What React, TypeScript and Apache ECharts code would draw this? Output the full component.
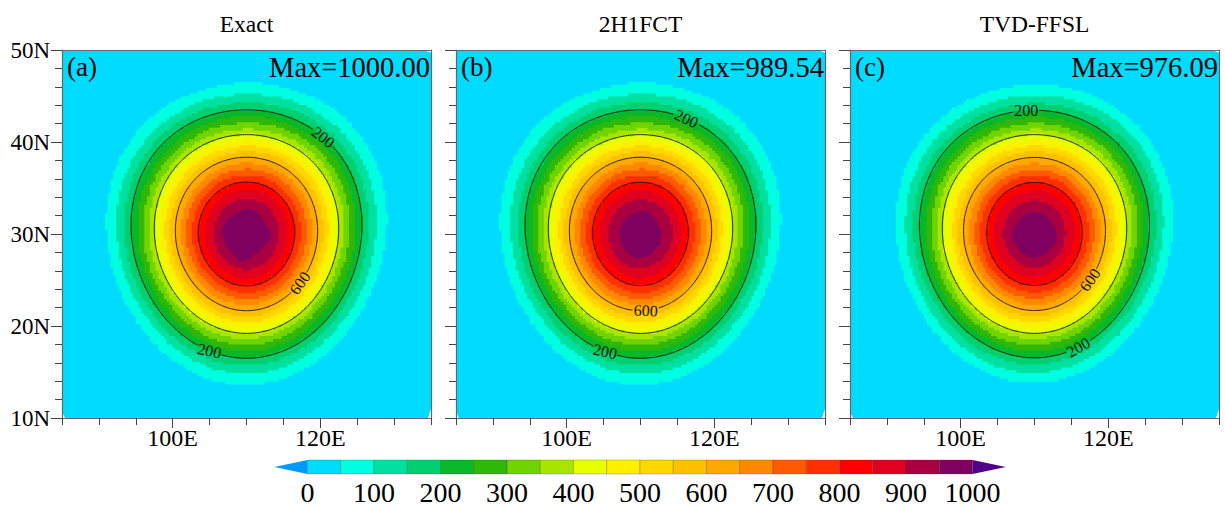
import React, { useEffect, useRef } from "react";
import * as echarts from "echarts";

const FONT = '"Liberation Serif", "Times New Roman", serif';

const panelTitles = ["Exact", "2H1FCT", "TVD-FFSL"];
const panelTags = ["(a)", "(b)", "(c)"];
const panelMax = ["Max=1000.00", "Max=989.54", "Max=976.09"];

const levels = [50, 100, 150, 200, 250, 300, 350, 400, 450, 500, 550, 600, 650, 700, 750, 800, 850, 900];
// distance from the bell's centre (degrees of arc) at which each level is reached
const radiiExact = [16.4, 15.2, 14.3, 13.5, 12.75, 12.07, 11.4, 10.8, 10.17, 9.57, 8.96, 8.34, 7.7, 7.05, 6.38, 5.65, 4.84, 3.85];
const radiiFct = [16.4, 15.2, 14.3, 13.5, 12.75, 12.07, 11.4, 10.8, 10.17, 9.57, 8.96, 8.34, 7.7, 7.05, 6.38, 5.62, 4.78, 3.75];
const radiiFfsl = [16.2, 15.1, 14.2, 13.45, 12.7, 12.05, 11.4, 10.8, 10.17, 9.57, 8.96, 8.32, 7.68, 7.02, 6.35, 5.6, 4.75, 3.65];
const panelRadii = [radiiExact, radiiFct, radiiFfsl];

// the innermost (950+) area: lon, lat
const coreExact = [[110.03, 32.8], [111.15, 32.6], [112.3, 31.5], [113.3, 30.2], [113.3, 29.5], [111.8, 28.1], [110.2, 27.2], [109.1, 27.0], [107.9, 27.9], [107.1, 29.0], [106.6, 30.4], [107.2, 31.4], [108.2, 32.1]];
const coreFct = [[110.1, 32.6], [111.4, 32.2], [112.3, 31.2], [112.9, 30.3], [112.6, 28.8], [111.2, 27.6], [109.3, 27.3], [108.2, 28.0], [107.5, 28.8], [107.0, 30.3], [107.6, 31.3], [108.5, 32.0]];
const coreFfsl = [[109.8, 32.4], [111.2, 32.2], [112.3, 31.3], [112.9, 30.5], [113.0, 29.2], [111.5, 27.8], [109.8, 27.3], [108.2, 27.9], [107.0, 29.5], [107.2, 30.8], [108.4, 32.0]];
const panelCores = [coreExact, coreFct, coreFfsl];

const domainCorners = [[85.4, 10], [134.6, 10], [135, 11], [135, 49.7], [134, 50], [85.3, 50], [85, 49.7], [85, 10.7]];

const contourLevels = [200, 400, 600, 800];
// level, bearing from the centre, rotation of the text
const labelsExact = [[200, 36, -38], [600, 128, 55], [200, 201, -12]];
const labelsFct = [[200, 20, -25], [600, 175.5, -3], [200, 200, -12]];
const labelsFfsl = [[200, 356.5, 0], [600, 125, 55], [200, 155, 30]];
const panelLabels = [labelsExact, labelsFct, labelsFfsl];

const barStops = [0, 50, 100, 150, 200, 250, 300, 350, 400, 450, 500, 550, 600, 650, 700, 750, 800, 850, 900, 950];
const barColors = ["#00DCFF", "#00FFE0", "#00E0A0", "#00D070", "#08B828", "#30B808", "#70D400", "#A8E600", "#E8FF00", "#FFF000", "#FFD800", "#FFC000", "#FFA800", "#FF8800", "#FF5A00", "#FF3000", "#FF0000", "#E00020", "#A80040", "#80005F"];
const lowColor = "#0099FF";
const highColor = "#500088";

const panelLefts = [62, 456, 850];
const PW = 369;
const CX = 110, CY = 30;
const rad = Math.PI / 180;

function destination(d: number, bearing: number) {
  const p1 = CY * rad, dr = d * rad, b = bearing * rad;
  const p2 = Math.asin(Math.sin(p1) * Math.cos(dr) + Math.cos(p1) * Math.sin(dr) * Math.cos(b));
  const dl = Math.atan2(Math.sin(b) * Math.sin(dr) * Math.cos(p1), Math.cos(dr) - Math.sin(p1) * Math.sin(p2));
  return [CX + dl / rad, p2 / rad];
}

function stepped(d: number) {
  const out: number[][] = [];
  const sx = 0.38, sy = 0.31;
  for (let b = 0; b < 360; b += 1) {
    const [lo, la] = destination(d, b);
    const x = Math.round(lo / sx) * sx;
    const y = Math.round(la / sy) * sy;
    const last = out[out.length - 1];
    if (!last) out.push([x, y]);
    else if (last[0] !== x || last[1] !== y) {
      if (last[0] !== x && last[1] !== y) out.push([x, last[1]]);
      out.push([x, y]);
    }
  }
  return out;
}

function buildOption() {
  const grids: any[] = [];
  const xAxes: any[] = [];
  const yAxes: any[] = [];
  const series: any[] = [];
  const titles: any[] = [];
  const lineStyle = { color: "#666", width: 1.2 };
  const tickStyle = { color: "#444", width: 1 };

  panelLefts.forEach((left, p) => {
    grids.push({ left, top: 50, width: PW, height: 368 });
    const xStart = xAxes.length;
    const yStart = yAxes.length;
    const xBase = { type: "value", gridIndex: p, min: 85, max: 135, interval: 5, splitLine: { show: false }, z: 5 };
    const yBase = { type: "value", gridIndex: p, min: 10, max: 50, interval: 10, splitLine: { show: false }, z: 5 };
    xAxes.push(
      { ...xBase, position: "bottom", axisLine: { onZero: false, lineStyle }, axisTick: { length: 7, lineStyle: tickStyle }, axisLabel: { show: false } },
      {
        ...xBase, position: "bottom", axisLine: { show: false },
        axisTick: { length: 10, lineStyle: tickStyle, customValues: [100, 120] },
        axisLabel: { customValues: [100, 120], formatter: (v: number) => v + "E", fontFamily: FONT, fontSize: 24, color: "#000", margin: 8 },
      },
      { ...xBase, position: "top", axisLine: { onZero: false, lineStyle }, axisTick: { show: false }, axisLabel: { show: false } },
    );
    yAxes.push(
      {
        ...yBase, position: "left", axisLine: { onZero: false, lineStyle },
        axisTick: { length: 11, lineStyle: tickStyle },
        minorTick: { show: true, splitNumber: 5, length: 7, lineStyle: tickStyle },
        axisLabel: { show: p === 0, formatter: (v: number) => v + "N", fontFamily: FONT, fontSize: 23, color: "#000", margin: 12 },
      },
      { ...yBase, position: "right", axisLine: { onZero: false, lineStyle }, axisTick: { show: false }, axisLabel: { show: false } },
    );
    const axisRefs = { xAxisIndex: xStart, yAxisIndex: yStart };

    series.push({
      type: "custom", ...axisRefs, silent: true, z: 1,
      data: domainCorners,
      renderItem: (params: any, api: any) => params.dataIndex === 0
        ? { type: "polygon", shape: { points: domainCorners.map((c) => api.coord(c)) }, style: { fill: barColors[0] } }
        : null,
    });
    series.push({
      type: "custom", ...axisRefs, silent: true, z: 2,
      data: levels.map((l, i) => [l, panelRadii[p][i]]),
      renderItem: (params: any, api: any) => ({
        type: "polygon",
        shape: { points: stepped(api.value(1)).map((c) => api.coord(c)) },
        style: { fill: barColors[params.dataIndex + 1] },
      }),
    });
    series.push({
      type: "custom", ...axisRefs, silent: true, z: 3,
      data: panelCores[p],
      renderItem: (params: any, api: any) => params.dataIndex === 0
        ? { type: "polygon", shape: { points: panelCores[p].map((c) => api.coord(c)) }, style: { fill: barColors[19] } }
        : null,
    });
    series.push({
      type: "custom", ...axisRefs, silent: true, z: 4,
      data: contourLevels.map((l) => [l, panelRadii[p][levels.indexOf(l)]]),
      renderItem: (params: any, api: any) => {
        const level = api.value(0), d = api.value(1);
        const labs = panelLabels[p].filter((l) => l[0] === level).map((l) => ({
          pos: api.coord(destination(d, l[1])), rot: l[2],
        }));
        const parts: number[][][] = [];
        let cur: number[][] = [];
        for (let b = 0; b <= 360; b += 1) {
          const pt = api.coord(destination(d, b));
          const hidden = labs.some((l) => Math.hypot(pt[0] - l.pos[0], pt[1] - l.pos[1]) < 12.5);
          if (hidden) {
            if (cur.length > 1) parts.push(cur);
            cur = [];
          } else cur.push(pt);
        }
        if (cur.length > 1) parts.push(cur);
        const children: any[] = parts.map((pts) => ({
          type: "polyline", shape: { points: pts }, style: { stroke: "#111", lineWidth: 0.9, fill: "none" },
        }));
        labs.forEach((l) => children.push({
          type: "text", x: l.pos[0], y: l.pos[1], rotation: l.rot * rad,
          style: { text: String(level), font: `16px ${FONT}`, fill: "#111", align: "center", verticalAlign: "middle" },
        }));
        return { type: "group", children };
      },
    });

    titles.push(
      { text: panelTitles[p], left: left + PW / 2 + 0, top: 12, textAlign: "center", textStyle: { fontFamily: FONT, fontSize: 23.5, fontWeight: "normal", color: "#000" }, padding: 0 },
      { text: panelTags[p], left: left + 5, top: 53, textStyle: { fontFamily: FONT, fontSize: 27, fontWeight: "normal", color: "#000" }, padding: 0 },
      { text: panelMax[p], left: left + PW - 1, top: 53, textAlign: "right", textStyle: { fontFamily: FONT, fontSize: 28.5, fontWeight: "normal", color: "#000" }, padding: 0 },
    );
  });

  // colour bar
  const g = grids.length;
  grids.push({ left: 307.5, top: 460, width: 665, height: 15 });
  const barX = xAxes.length;
  const barY = yAxes.length;
  xAxes.push({
    type: "value", gridIndex: g, min: 0, max: 1000, interval: 100, position: "bottom",
    axisLine: { show: false }, axisTick: { show: false }, splitLine: { show: false },
    axisLabel: { fontFamily: FONT, fontSize: 28, color: "#000", margin: 4, formatter: (v: number) => String(v) },
  });
  yAxes.push({ type: "value", gridIndex: g, min: 0, max: 1, show: false, splitLine: { show: false } });
  series.push({
    type: "custom", xAxisIndex: barX, yAxisIndex: barY, silent: true, z: 2,
    data: barStops.map((s, i) => [s, barStops[i + 1] ?? 1000]),
    renderItem: (params: any, api: any) => {
      const a = api.coord([api.value(0), 1]);
      const b = api.coord([api.value(1), 0]);
      return {
        type: "rect",
        shape: { x: a[0], y: a[1], width: b[0] - a[0], height: b[1] - a[1] },
        style: { fill: barColors[params.dataIndex], stroke: "rgba(60,60,60,0.45)", lineWidth: 0.6 },
      };
    },
  });
  series.push({
    type: "custom", xAxisIndex: barX, yAxisIndex: barY, silent: true, z: 2,
    data: [[0, -50], [1000, 1050]],
    renderItem: (params: any, api: any) => ({
      type: "polygon",
      shape: { points: [api.coord([api.value(0), 1]), api.coord([api.value(1), 0.5]), api.coord([api.value(0), 0])] },
      style: { fill: params.dataIndex === 0 ? lowColor : highColor },
    }),
  });

  return { animation: false, backgroundColor: "#fff", title: titles, grid: grids, xAxis: xAxes, yAxis: yAxes, series };
}

export default function App() {
  const ref = useRef<HTMLDivElement>(null);
  useEffect(() => {
    const chart = echarts.init(ref.current!, undefined, { renderer: "svg" });
    chart.setOption(buildOption() as any);
    return () => chart.dispose();
  }, []);
  return <div ref={ref} style={{ position: "absolute", left: 0, top: 0, width: 1225, height: 506 }} />;
}
